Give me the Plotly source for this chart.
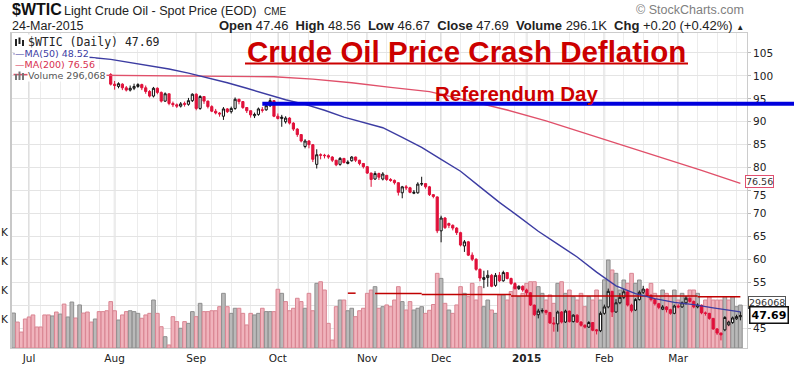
import pandas as pd
import plotly.graph_objects as go

# ---------------- data ----------------
holidays = ['2014-07-04', '2014-09-01', '2014-11-27', '2014-12-25',
            '2015-01-01', '2015-01-19', '2015-02-16']
trade_days = [d.strftime('%Y-%m-%d') for d in pd.bdate_range('2014-06-25', '2015-03-24')
              if d.strftime('%Y-%m-%d') not in holidays]

# daily closes (Jun 25 2014 .. Mar 24 2015)
closes = [
    106.5, 105.8, 105.7, 105.4, 105.3, 104.5, 104.1, 103.5, 103.4, 102.3, 102.9, 100.8, 100.9,
    100.0, 101.2, 103.2, 103.1, 104.6, 104.4, 103.1, 102.1, 102.1, 101.7, 101.0, 100.3,
    # Jul 31 - Aug 29
    98.2, 97.9, 98.3, 97.4, 96.9, 97.3, 97.7, 98.1, 97.4, 96.6, 95.6, 97.3, 96.4, 94.5, 96.1,
    94.0, 93.7, 93.4, 93.9, 93.8, 94.6, 96.0,
    # Sep
    92.9, 95.5, 94.5, 93.3, 92.3, 91.9, 91.7, 92.8, 92.2, 92.9, 94.9, 94.4, 93.1, 92.4, 91.5,
    91.6, 92.8, 92.5, 93.5, 94.6, 91.2,
    # Oct
    90.7, 91.0, 90.8, 89.7, 88.4, 87.2, 85.8, 85.8, 85.0, 81.8, 82.8, 82.7, 82.6, 82.3, 81.6,
    80.6, 82.0, 81.1, 81.2, 82.3, 81.6, 80.9, 80.2,
    # Nov
    78.8, 77.4, 78.7, 77.9, 78.6, 77.4, 77.2, 76.7, 74.6, 75.8, 75.6, 74.6, 74.6, 76.4, 76.5,
    75.8, 74.1, 73.7, 66.2,
    # Dec
    69.0, 66.9, 67.4, 66.8, 65.8, 63.1, 63.8, 60.9, 60.0, 57.8, 55.9, 56.0, 56.5, 54.1, 56.5,
    55.3, 57.1, 55.8, 54.7, 53.6, 54.1, 53.3,
    # Jan
    52.7, 50.0, 47.9, 48.7, 48.8, 48.4, 46.1, 45.9, 48.5, 46.3, 48.7, 46.4, 47.8, 46.3, 45.6,
    45.2, 46.2, 44.5, 44.4, 48.2,
    # Feb
    49.6, 53.0, 48.5, 50.5, 51.7, 52.9, 50.0, 48.8, 51.2, 52.8, 53.5, 52.1, 51.2, 50.3, 49.5,
    49.6, 49.0, 48.2, 49.8,
    # Mar
    49.6, 50.5, 51.5, 50.8, 49.6, 50.0, 48.3, 48.2, 47.1, 44.8, 43.9, 43.5, 47.3, 46.3, 47.2,
    47.5, 47.69,
]
first_candle = 25  # candles visible from Jul 31 (earlier ones sit under the legend)

opens = [
    100.3, 98.2, 97.7, 98.2, 97.4, 96.9, 97.3, 97.7, 98.1, 97.4, 96.6, 95.6, 97.3, 96.4, 94.5,
    96.1, 94.0, 93.7, 93.4, 94.0, 93.8, 94.6,
    96.0, 92.9, 95.5, 94.5, 93.3, 92.3, 91.9, 91.2, 92.8, 92.2, 92.9, 94.9, 94.4, 93.1, 92.4,
    91.3, 91.6, 92.6, 92.6, 93.5, 94.6,
    91.2, 90.7, 90.0, 90.8, 89.7, 88.4, 87.2, 84.6, 85.8, 85.0, 80.7, 82.8, 82.7, 82.6, 82.3,
    81.6, 80.7, 82.0, 80.9, 81.5, 82.3, 81.6, 80.9,
    80.2, 78.8, 77.5, 78.7, 77.5, 78.3, 77.4, 77.2, 76.7, 74.5, 75.8, 75.6, 74.4, 74.5, 76.4,
    76.5, 75.8, 74.1, 73.6,
    66.2, 69.0, 67.8, 67.4, 66.8, 65.8, 62.9, 63.8, 60.9, 60.0, 57.8, 55.6, 56.0, 56.5, 54.3,
    56.5, 55.3, 57.1, 55.8, 54.7, 53.6, 54.1,
    53.3, 52.7, 50.0, 47.9, 48.7, 48.8, 48.4, 46.1, 45.9, 48.5, 46.3, 48.7, 46.4, 47.8, 46.3,
    45.6, 45.2, 46.2, 44.6, 44.4,
    48.2, 49.6, 53.0, 48.5, 50.5, 51.7, 52.9, 50.0, 48.9, 51.2, 52.8, 53.5, 52.1, 51.2, 50.3,
    49.1, 49.6, 49.0, 48.2,
    49.8, 49.6, 50.5, 51.5, 50.8, 49.6, 50.0, 48.3, 48.2, 47.1, 44.8, 43.9, 44.6, 45.7, 46.2,
    47.0, 47.46,
]
highs = [
    100.6, 98.9, 98.6, 98.4, 97.8, 97.9, 98.3, 98.4, 98.3, 97.9, 96.9, 97.6, 97.5, 96.6, 96.4,
    96.1, 94.4, 94.0, 94.3, 94.4, 95.2, 96.2,
    96.2, 95.8, 95.6, 94.6, 93.6, 92.8, 92.1, 93.2, 93.0, 93.3, 95.3, 95.0, 94.5, 93.2, 92.5,
    92.0, 93.1, 93.2, 94.0, 95.2, 94.7,
    91.8, 91.5, 91.2, 91.0, 89.9, 88.6, 87.3, 86.2, 86.0, 85.1, 84.0, 83.1, 83.0, 82.9, 82.5,
    81.7, 82.3, 82.1, 81.6, 82.5, 82.4, 81.7, 81.0,
    80.3, 78.9, 79.2, 78.9, 79.0, 78.4, 77.7, 77.4, 76.8, 76.0, 76.2, 75.8, 75.1, 76.8, 78.0,
    76.6, 76.0, 74.2, 73.7,
    69.5, 69.2, 68.0, 67.6, 67.0, 66.0, 64.2, 64.0, 61.5, 60.2, 58.0, 57.5, 57.6, 56.8, 57.0,
    57.2, 57.5, 57.2, 56.0, 55.0, 54.3, 54.3,
    53.6, 52.8, 50.1, 49.2, 49.3, 49.0, 48.5, 47.4, 48.8, 48.7, 49.0, 48.8, 48.0, 48.0, 46.5,
    45.8, 46.5, 46.3, 44.8, 48.6,
    50.1, 53.6, 53.1, 51.3, 52.6, 53.5, 53.0, 50.3, 51.5, 53.2, 54.2, 53.6, 52.4, 51.4, 50.5,
    50.0, 49.8, 49.2, 50.1,
    50.2, 50.8, 52.0, 51.7, 51.0, 50.4, 50.1, 48.6, 48.3, 47.2, 45.0, 44.0, 47.6, 46.6, 47.5,
    47.9, 48.56,
]
lows = [
    97.9, 97.0, 97.3, 96.9, 96.6, 96.6, 96.9, 97.4, 96.9, 96.1, 95.3, 95.3, 96.0, 94.2, 94.3,
    93.6, 93.2, 93.0, 93.1, 93.3, 93.5, 94.3,
    92.5, 92.6, 93.9, 92.9, 92.1, 91.6, 91.1, 90.4, 91.9, 91.8, 92.6, 93.8, 92.8, 91.9, 90.9,
    90.8, 91.3, 92.0, 92.4, 93.2, 91.0,
    90.5, 88.9, 89.6, 89.4, 88.0, 86.7, 85.5, 84.2, 84.2, 81.2, 79.8, 81.8, 82.0, 81.9, 81.2,
    80.3, 80.4, 80.9, 80.7, 81.3, 81.2, 80.5, 79.8,
    78.6, 75.8, 77.3, 77.3, 77.2, 77.1, 76.9, 76.3, 73.9, 73.3, 75.1, 74.4, 74.2, 74.3, 76.0,
    75.4, 73.8, 73.3, 65.7,
    63.7, 66.6, 66.8, 66.3, 65.3, 62.8, 61.6, 60.7, 59.6, 57.5, 55.2, 53.7, 54.0, 53.9, 54.0,
    55.0, 55.1, 55.6, 54.4, 53.4, 53.3, 52.9,
    52.0, 49.8, 47.6, 47.1, 48.2, 47.9, 45.9, 44.2, 44.2, 46.0, 46.1, 46.2, 46.2, 46.1, 45.3,
    44.9, 45.0, 44.3, 43.6, 44.1,
    47.9, 49.3, 47.4, 48.3, 50.2, 51.3, 49.7, 48.4, 48.7, 51.0, 52.4, 51.8, 50.8, 49.9, 49.1,
    48.9, 48.4, 47.9, 48.0,
    49.3, 49.4, 50.1, 50.5, 49.3, 49.3, 48.0, 47.7, 46.8, 44.6, 43.5, 42.3, 44.3, 45.4, 45.9,
    46.8, 46.67,
]

# daily volume, thousands
volume_k = [
    241, 179, 110, 200, 214, 228, 145, 145, 228, 228, 221, 248, 234, 303, 214, 317, 207, 297,
    241, 248, 179, 200,
    251, 251, 257, 320, 257, 193, 228, 251, 257, 251, 239, 205, 228, 239, 331, 239, 147, 78,
    21, 216, 182, 136, 182, 170, 251, 216, 308, 251, 251, 257, 257, 285, 377, 285, 239, 274,
    274, 239, 159, 239, 228, 239, 274, 251, 251, 251, 405, 377, 320, 257, 274, 343, 320, 274,
    377, 257, 446, 457, 400, 170, 55, 285, 331, 331, 257, 274, 216, 257, 274, 377, 400, 423,
    274, 285, 297, 285, 331, 423,
    320, 262, 320, 262, 274, 285, 239, 260, 300, 515, 480, 308, 262, 239, 297, 423, 377, 354,
    446, 331, 423, 285, 331, 262, 239, 366, 366, 331, 389, 423, 354, 377, 446, 457, 457, 423,
    377, 331, 366, 308,
    446, 457, 377, 400, 354, 331, 377, 285, 354, 331, 400, 331, 470, 607, 538, 515, 400, 469,
    446, 515, 446, 469, 400, 377, 446, 377, 354, 400, 377, 354, 400, 331, 377, 354, 400, 400,
    377, 285, 331, 354, 331, 331, 331, 354, 331, 354, 285, 296,
]

# moving averages (trading-day index -> value)
ma50_idx = [0, 5, 10, 15, 20, 25, 30, 35, 40, 45, 50, 55, 60, 65, 70, 75, 80, 85, 90, 95,
            100, 105, 110, 115, 120, 125, 130, 135, 140, 145, 150, 155, 160, 165, 170, 175,
            180, 185, 187]
ma50_vals = [104.8, 104.6, 104.5, 104.3, 104.0, 103.6, 102.9, 102.2, 101.5, 100.6, 99.6,
             98.5, 97.3, 96.1, 94.8, 93.8, 92.5, 91.0, 89.8, 88.7, 86.6, 84.4, 81.8, 79.2,
             75.8, 72.4, 69.3, 66.1, 63.3, 60.5, 57.2, 54.2, 52.5, 51.4, 50.6, 50.1, 49.4,
             48.7, 48.52]
ma200_idx = [0, 20, 40, 55, 67, 77, 87, 97, 107, 117, 127, 137, 147, 157, 167, 177, 187]
ma200_vals = [100.3, 100.15, 100.0, 99.9, 99.8, 99.3, 98.5, 97.5, 96.56, 94.6, 92.56, 90.2,
              87.5, 84.9, 82.1, 79.4, 76.56]

month_labels = ['Jul', 'Aug', 'Sep', 'Oct', 'Nov', 'Dec', '<b>2015</b>', 'Feb', 'Mar']
price_ticks = [45, 50, 55, 60, 65, 70, 75, 80, 85, 90, 95, 100, 105]
# 50 sits under the value tags; 75 is drawn a touch lower, just below the 76.56 tag
price_tick_text = ['45', '', '55', '60', '65', '70', '', '80', '85', '90', '95', '100', '105']
vol_ticks = [200000, 400000, 600000, 800000]
vol_tick_text = ['K', 'K', 'K', 'K']

# hand-drawn dark red level line (start, end, price)
level_segments = [('2014-10-27', '2014-10-29', 52.6), ('2014-11-05', '2014-11-21', 52.55),
                  ('2014-11-21', '2014-12-26', 52.3), ('2014-12-26', '2015-03-09', 52.0),
                  ('2015-03-09', '2015-03-24', 51.8)]
referendum_start = '2014-09-25'
referendum_level = 93.9

# ---------------- geometry helpers ----------------
L, R, T, B = 12, 747, 33, 348
X_MIN, X_MAX = -0.4, 188.7
P_MIN, P_MAX = 40.64, 109.36
V_MAX = 2172414


def px(x):
    return (x - L) / (R - L)


def py(y):
    return (B - y) / (B - T)


n = len(trade_days)
vol_fill, vol_line = [], []
for i in range(n):
    down = i > 0 and closes[i] < closes[i - 1]
    vol_fill.append('#f0b3bc' if down else '#b9b9b9')
    vol_line.append('#d98592' if down else '#8e8e8e')

fig = go.Figure()

fig.add_trace(go.Bar(
    x=trade_days, y=[v * 1000 for v in volume_k], yaxis='y',
    marker=dict(color=vol_fill, line=dict(color=vol_line, width=1)),
    hoverinfo='skip', showlegend=False))

seg_x, seg_y = [], []
for a, b, lv in level_segments:
    seg_x += [a, b, b]
    seg_y += [lv, lv, None]
fig.add_trace(go.Scatter(x=seg_x, y=seg_y, yaxis='y2', mode='lines',
                         line=dict(color='#c00000', width=1.5), hoverinfo='skip',
                         showlegend=False))

fig.add_trace(go.Scatter(x=[trade_days[i] for i in ma200_idx], y=ma200_vals, yaxis='y2',
                         mode='lines', line=dict(color='#e0506a', width=1.4),
                         hoverinfo='skip', showlegend=False))
fig.add_trace(go.Scatter(x=[trade_days[i] for i in ma50_idx], y=ma50_vals, yaxis='y2',
                         mode='lines', line=dict(color='#3c3ca2', width=1.4),
                         hoverinfo='skip', showlegend=False))

fig.add_trace(go.Candlestick(
    x=trade_days[first_candle:], open=opens, high=highs, low=lows,
    close=closes[first_candle:], yaxis='y2', whiskerwidth=0,
    increasing=dict(line=dict(color='#111111', width=1), fillcolor='#ffffff'),
    decreasing=dict(line=dict(color='#e0103a', width=1), fillcolor='#e0103a'),
    hoverinfo='skip', showlegend=False))

# grid positions: first trading day of each month + first trading day of each week
stamps = [pd.Timestamp(d) for d in trade_days]
month_first = [i for i in range(1, n) if stamps[i].month != stamps[i - 1].month]
week_first = [i for i in range(1, n) if stamps[i].weekday() < stamps[i - 1].weekday()]
week_first = [i for i in week_first if all(abs(i - m) > 2 for m in month_first)]
grid_idx = sorted(set(month_first) | set(week_first))
tickvals = [trade_days[i] for i in grid_idx]
ticktext = [month_labels[month_first.index(i)] if i in month_first else '' for i in grid_idx]

axis_font = dict(family='DejaVu Sans', size=10.5, color='#222222')

fig.update_layout(
    width=800, height=375, margin=dict(l=L, r=800 - R, t=T, b=375 - B, autoexpand=False),
    paper_bgcolor='white', plot_bgcolor='white', showlegend=False,
    bargap=0.06, boxgap=0.2,
    xaxis=dict(type='category', categoryorder='array', categoryarray=trade_days,
               range=[X_MIN, X_MAX], rangeslider=dict(visible=False), automargin=False,
               tickmode='array', tickvals=tickvals, ticktext=ticktext,
               showgrid=True, gridcolor='#ececec', gridwidth=1, ticks='',
               showline=True, linecolor='#cccccc', linewidth=1, mirror=True,
               tickfont=axis_font, zeroline=False),
    yaxis=dict(range=[0, V_MAX], side='left', tickmode='array', tickvals=vol_ticks,
               ticktext=vol_tick_text, showgrid=False, zeroline=False, ticks='',
               automargin=False,
               showline=True, linecolor='#c8c8c8', linewidth=2, tickfont=axis_font),
    yaxis2=dict(overlaying='y', side='right', range=[P_MIN, P_MAX], tickmode='array',
                tickvals=price_ticks, ticktext=price_tick_text, automargin=False,
                showgrid=True, gridcolor='#e4e4e4', gridwidth=1,
                ticks='outside', ticklen=3, tickcolor='#bbbbbb', zeroline=False,
                showline=True, linecolor='#cccccc', linewidth=1, tickfont=axis_font),
)

shapes = []
for i in month_first:
    shapes.append(dict(type='line', xref='x', yref='paper', x0=i, x1=i, y0=0, y1=1,
                       line=dict(color='#d2d2d2', width=1.6), layer='between'))
ref_i = trade_days.index(referendum_start)
shapes.append(dict(type='line', xref='paper', yref='y2',
                   x0=(ref_i - X_MIN) / (X_MAX - X_MIN), x1=px(794),
                   y0=referendum_level, y1=referendum_level,
                   line=dict(color='#0000dd', width=4), layer='above'))
shapes.append(dict(type='line', xref='paper', yref='paper', x0=px(245), x1=px(688),
                   y0=py(63.5), y1=py(63.5), line=dict(color='#cc0000', width=2.2)))
# legend icons
for x0, x1, y0, y1, c in [(15, 17, 39, 46, '#222'), (18.5, 20.5, 37.5, 44, '#222'),
                          (22, 24, 40, 46, '#222'),
                          (15, 17, 74, 80, '#777'), (18.5, 20.5, 71.5, 80, '#777'),
                          (22, 24, 73, 80, '#777')]:
    shapes.append(dict(type='rect', xref='paper', yref='paper', x0=px(x0), x1=px(x1),
                       y0=py(y1), y1=py(y0), line=dict(width=0), fillcolor=c))
fig.update_layout(shapes=shapes)

ann = []


def add(text, x, y, size, color='#111111', family='Liberation Sans, Arial', xanchor='left',
        **kw):
    ann.append(dict(text=text, x=px(x), y=py(y), xref='paper', yref='paper',
                    xanchor=xanchor, yanchor='middle', showarrow=False,
                    font=dict(family=family, size=size, color=color), **kw))


# header
add('<b>$WTIC</b>', 10, 9.5, 16)
add('Light Crude Oil - Spot Price (EOD)', 62, 10.5, 12.6, color='#222')
add('CME', 262, 11.5, 10, color='#222')
add('24-Mar-2015', 10, 25.5, 12.5, color='#222')
add('<b>Open</b> 47.46  <b>High</b> 48.56  <b>Low</b> 46.67  <b>Close</b> 47.69  '
    '<b>Volume</b> 296.1K  <b>Chg</b> +0.20 (+0.42%) <span style="font-size:8px">▲</span>',
    746, 25.5, 13, color='#222', xanchor='right')
add('© StockCharts.com', 746, 10, 12.5, color='#808080', xanchor='right')

# in-plot legend
add('$WTIC (Daily) 47.69', 27, 42, 11.5, color='#222', family='DejaVu Sans Mono',
    bgcolor='white', borderpad=0)
add('—MA(50) 48.52', 14, 53.5, 9.5, color='#3c3ca2', family='DejaVu Sans',
    bgcolor='white', borderpad=0)
add('—MA(200) 76.56', 14, 64.5, 9.5, color='#d8304f', family='DejaVu Sans',
    bgcolor='white', borderpad=0)
add('Volume 296,068', 27, 76, 9.5, color='#555555', family='DejaVu Sans',
    bgcolor='white', borderpad=0)

# titles
add('<b>Crude Oil Price Crash Deflation</b>', 466, 51, 29.5, color='#cc0000',
    xanchor='center')
add('<b>Referendum Day</b>', 517, 93, 20.5, color='#cc0000', xanchor='center')

# right-edge value tags and the shifted 75 label
add('75', 751, 195, 10.5, color='#222', family='DejaVu Sans')
add('76.56', 745, 181.5, 9.5, color='#333', family='DejaVu Sans', bgcolor='white',
    bordercolor='#e05070', borderwidth=1, borderpad=0)
add('296068', 748, 302.5, 9.5, color='#333', family='DejaVu Sans', bgcolor='white',
    bordercolor='#555555', borderwidth=1, borderpad=0)
add('<b>47.69</b>', 749, 314.5, 11, color='#000', family='DejaVu Sans', bgcolor='white',
    bordercolor='#111111', borderwidth=1.5, borderpad=1)

fig.update_layout(annotations=ann)

fig.write_html('out.html', config={'displayModeBar': False},
               post_script="document.body.style.margin='0px';"
                           "document.body.style.overflow='hidden';")
